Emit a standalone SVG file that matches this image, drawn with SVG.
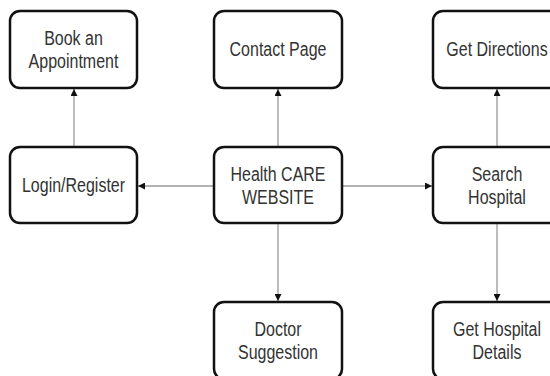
<svg xmlns="http://www.w3.org/2000/svg" width="550" height="376" viewBox="0 0 550 376">
<defs>
<marker id="ah" viewBox="0 0 10 10" refX="10" refY="5" markerWidth="7" markerHeight="7" markerUnits="userSpaceOnUse" orient="auto">
<path d="M0,0 L10,5 L0,10 z" fill="#111"/>
</marker>
<style>
.box{fill:#fff;stroke:#111;stroke-width:2.5}
.lbl{font-family:"Liberation Sans",Arial,sans-serif;font-size:19.5px;fill:#333;text-anchor:middle}
.con{stroke:#999;stroke-width:1.3;fill:none;marker-end:url(#ah)}
</style>
</defs>
<rect width="550" height="376" fill="#fff"/>
<g id="connectors">
<line class="con" x1="74" y1="147" x2="74" y2="89"/>
<line class="con" x1="278" y1="147" x2="278" y2="89"/>
<line class="con" x1="214" y1="186" x2="138" y2="186"/>
<line class="con" x1="342" y1="186" x2="432" y2="186"/>
<line class="con" x1="278" y1="223" x2="278" y2="301"/>
<line class="con" x1="497" y1="147" x2="497" y2="89"/>
<line class="con" x1="497" y1="223" x2="497" y2="301"/>
</g>
<g id="book">
<rect class="box" x="10" y="11" width="127" height="77" rx="10"/>
<g transform="translate(73.5,0) scale(0.82,1)">
<text class="lbl" x="0" y="45">Book an</text>
<text class="lbl" x="0" y="68">Appointment</text>
</g>
</g>
<g id="contact">
<rect class="box" x="214" y="11" width="128" height="77" rx="10"/>
<g transform="translate(278,0) scale(0.82,1)">
<text class="lbl" x="0" y="56">Contact Page</text>
</g>
</g>
<g id="directions">
<rect class="box" x="433" y="11" width="128" height="77" rx="10"/>
<g transform="translate(497,0) scale(0.82,1)">
<text class="lbl" x="0" y="56">Get Directions</text>
</g>
</g>
<g id="login">
<rect class="box" x="10" y="147" width="127" height="76" rx="10"/>
<g transform="translate(73.5,0) scale(0.82,1)">
<text class="lbl" x="0" y="192">Login/Register</text>
</g>
</g>
<g id="health">
<rect class="box" x="214" y="147" width="128" height="76" rx="10"/>
<g transform="translate(278,0) scale(0.82,1)">
<text class="lbl" x="0" y="181.5">Health CARE</text>
<text class="lbl" x="0" y="204">WEBSITE</text>
</g>
</g>
<g id="search">
<rect class="box" x="433" y="147" width="128" height="76" rx="10"/>
<g transform="translate(497,0) scale(0.82,1)">
<text class="lbl" x="0" y="181.5">Search</text>
<text class="lbl" x="0" y="204">Hospital</text>
</g>
</g>
<g id="doctor">
<rect class="box" x="214" y="302" width="128" height="77" rx="10"/>
<g transform="translate(278,0) scale(0.82,1)">
<text class="lbl" x="0" y="336">Doctor</text>
<text class="lbl" x="0" y="359">Suggestion</text>
</g>
</g>
<g id="hospital-details">
<rect class="box" x="433" y="302" width="128" height="77" rx="10"/>
<g transform="translate(497,0) scale(0.82,1)">
<text class="lbl" x="0" y="336">Get Hospital</text>
<text class="lbl" x="0" y="359">Details</text>
</g>
</g>
</svg>
